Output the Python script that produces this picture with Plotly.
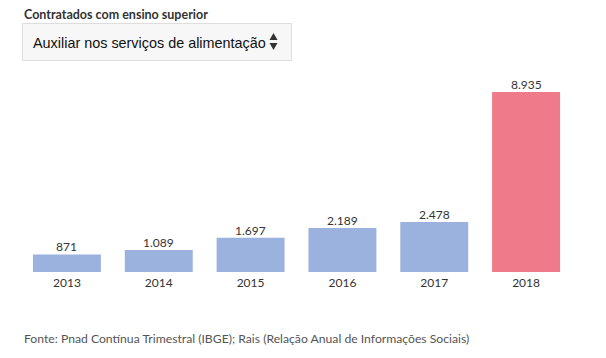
import plotly.graph_objects as go

years = ["2013", "2014", "2015", "2016", "2017", "2018"]
values = [871, 1089, 1697, 2189, 2478, 8935]
value_labels = ["871", "1.089", "1.697", "2.189", "2.478", "8.935"]
bar_colors = ["#9cb2de", "#9cb2de", "#9cb2de", "#9cb2de", "#9cb2de", "#ef7a8a"]

# page has an 8px body margin; figure sized to fit the window
OFF = 8
W, H = 606 - OFF, 358 - OFF

def px(x):
    return (x - OFF) / W

def py(y):
    return 1 - (y - OFF) / H

fig = go.Figure(
    go.Bar(
        x=years,
        y=values,
        marker=dict(color=bar_colors, line=dict(width=0)),
        hoverinfo="skip",
    )
)

plot_top, plot_bottom = 62, 272
ymax = 8935 * (plot_bottom - plot_top) / 180

label_annotations = [
    dict(
        x=i, y=v, xref="x", yref="y", text=lbl,
        xanchor="center", yanchor="bottom", yshift=-2, showarrow=False,
        font=dict(family="Lato", size=12, color="#333333"),
    )
    for i, (v, lbl) in enumerate(zip(values, value_labels))
]

fig.update_layout(
    width=W,
    height=H,
    margin=dict(l=0, r=0, t=0, b=0),
    paper_bgcolor="white",
    plot_bgcolor="white",
    showlegend=False,
    bargap=0.26,
    xaxis=dict(
        type="category",
        range=[-0.5, len(years) - 0.5],
        domain=[px(21), px(572)],
        showgrid=False,
        showline=False,
        zeroline=False,
        ticks="",
        ticklabelstandoff=2,
        tickfont=dict(family="Lato", size=12, color="#333333"),
        fixedrange=True,
    ),
    yaxis=dict(
        domain=[py(plot_bottom), py(plot_top)],
        range=[0, ymax],
        visible=False,
        fixedrange=True,
    ),
    shapes=[
        dict(
            type="rect", xref="paper", yref="paper",
            x0=px(22.5), x1=px(291.5), y0=py(60.5), y1=py(23.5),
            fillcolor="#f7f7f7", line=dict(color="#dddddd", width=1),
        ),
        dict(
            type="path", xref="paper", yref="paper",
            path=f"M {px(269.5)} {py(40)} L {px(277.5)} {py(40)} L {px(273.5)} {py(33)} Z",
            fillcolor="#333333", line=dict(width=0),
        ),
        dict(
            type="path", xref="paper", yref="paper",
            path=f"M {px(269.5)} {py(43)} L {px(277.5)} {py(43)} L {px(273.5)} {py(50)} Z",
            fillcolor="#333333", line=dict(width=0),
        ),
    ],
    annotations=[
        dict(
            text="<b>Contratados com ensino superior</b>",
            xref="paper", yref="paper", x=px(22), y=py(14.5),
            xanchor="left", yanchor="middle", showarrow=False,
            font=dict(family="Lato", size=12.5, color="#333333"),
        ),
        dict(
            text="Auxiliar nos serviços de alimentação",
            xref="paper", yref="paper", x=px(31), y=py(43),
            xanchor="left", yanchor="middle", showarrow=False,
            font=dict(family="Liberation Sans", size=14.4, color="#111111"),
        ),
        dict(
            text="Fonte: Pnad Contínua Trimestral (IBGE); Rais (Relação Anual de Informações Sociais)",
            xref="paper", yref="paper", x=px(22), y=py(338),
            xanchor="left", yanchor="middle", showarrow=False,
            font=dict(family="Lato", size=12.2, color="#555555"),
        ),
    ] + label_annotations,
)

fig.write_html("out.html", config={"displayModeBar": False})
